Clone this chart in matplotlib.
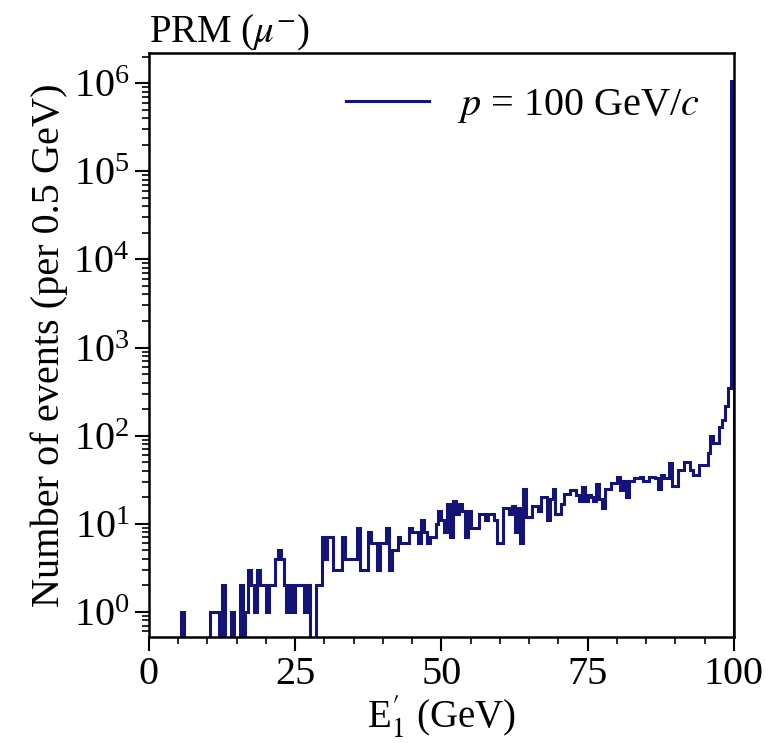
import numpy as np
import matplotlib
matplotlib.use("Agg")
import matplotlib.pyplot as plt
from matplotlib.lines import Line2D

plt.rcParams['font.family'] = ['Liberation Serif', 'DejaVu Serif']
plt.rcParams['mathtext.fontset'] = 'stix'

# Data: counts per 0.5 GeV bin, 0 - 100 GeV (200 bins)
bin_width = 0.5
counts = [
    0, 0, 0, 0, 0, 0, 0, 0, 0, 0,          # 0-5
    0, 1, 0, 0, 0, 0, 0, 0, 0, 0,          # 5-10
    0, 1, 1, 1, 0, 2, 0, 0, 1, 0,          # 10-15
    0, 2, 0, 1, 3, 2, 1, 3, 2, 2,          # 15-20
    1, 2, 2, 4, 5, 4, 2, 1, 2, 1,          # 20-25
    2, 2, 2, 1, 2, 0, 0, 2, 2, 7,          # 25-30
    4, 7, 7, 3, 3, 3, 7, 4, 4, 4,          # 30-35
    4, 9, 3, 3, 3, 8, 6, 6, 3, 6,          # 35-40
    6, 9, 3, 5, 5, 7, 6, 6, 6, 9,          # 40-45
    8, 8, 6, 11, 8, 6, 7, 7, 10, 14,       # 45-50
    11, 8, 17, 7, 18, 13, 17, 14, 7, 14,   # 50-55
    9, 9, 9, 13, 13, 11, 13, 13, 11, 6,    # 55-60
    6, 15, 15, 13, 16, 8, 15, 6, 25, 12,   # 60-65
    12, 16, 16, 14, 20, 20, 11, 19, 25, 13,  # 65-70
    13, 17, 22, 22, 24, 24, 21, 18, 26, 18,  # 70-75
    21, 20, 18, 28, 19, 15, 25, 25, 29, 29,  # 75-80
    34, 24, 31, 20, 31, 31, 33, 33, 34, 31,  # 80-85
    31, 34, 34, 33, 25, 36, 33, 33, 49, 27,  # 85-90
    27, 41, 41, 50, 50, 41, 36, 36, 47, 47,  # 90-95
    47, 63, 100, 82, 82, 125, 150, 220, 350, 1050000,  # 95-100
]
edges = np.arange(0, 100 + bin_width / 2, bin_width)
centers = edges[:-1] + bin_width / 2
x_ticks = [0, 25, 50, 75, 100]
y_ticks = [1e0, 1e1, 1e2, 1e3, 1e4, 1e5, 1e6]
label = r"$p$ = 100 GeV/$c$"
color = '#141478'

fig = plt.figure(figsize=(7.66, 7.43), dpi=100)
ax = fig.add_axes([0.1945, 0.1427, 0.7635, 0.786])

ax.hist(centers, bins=edges, weights=counts, histtype='step',
        color=color, linewidth=2.2)
ax.set_yscale('log')
ax.set_xlim(0, 100)
ax.set_ylim(0.52, 2.2e6)
ax.set_xticks(x_ticks)
ax.xaxis.set_minor_locator(matplotlib.ticker.MultipleLocator(5))
ax.set_yticks(y_ticks)
ax.yaxis.set_minor_locator(matplotlib.ticker.LogLocator(base=10, subs=np.arange(2, 10), numticks=20))
ax.yaxis.set_minor_formatter(matplotlib.ticker.NullFormatter())

for s in ax.spines.values():
    s.set_linewidth(1.8)
ax.tick_params(which='major', direction='out', length=10, width=1.5, labelsize=29, pad=4)
ax.tick_params(which='minor', direction='out', length=5, width=1.2)

ax.set_xlabel(r"E$^{\prime}_{1}$ (GeV)", fontsize=28, labelpad=0)
ax.set_ylabel("Number of events (per 0.5 GeV)", fontsize=29, labelpad=4)
ax.set_title(r"PRM ($\mu^{-}$)", loc='left', fontsize=28, pad=6)

handle = Line2D([], [], color=color, linewidth=2.2)
ax.legend([handle], [label], loc='upper right', frameon=False, fontsize=29,
          handlelength=2.05, handletextpad=0.7, borderaxespad=0.45)

fig.savefig("out.png", dpi=100)
